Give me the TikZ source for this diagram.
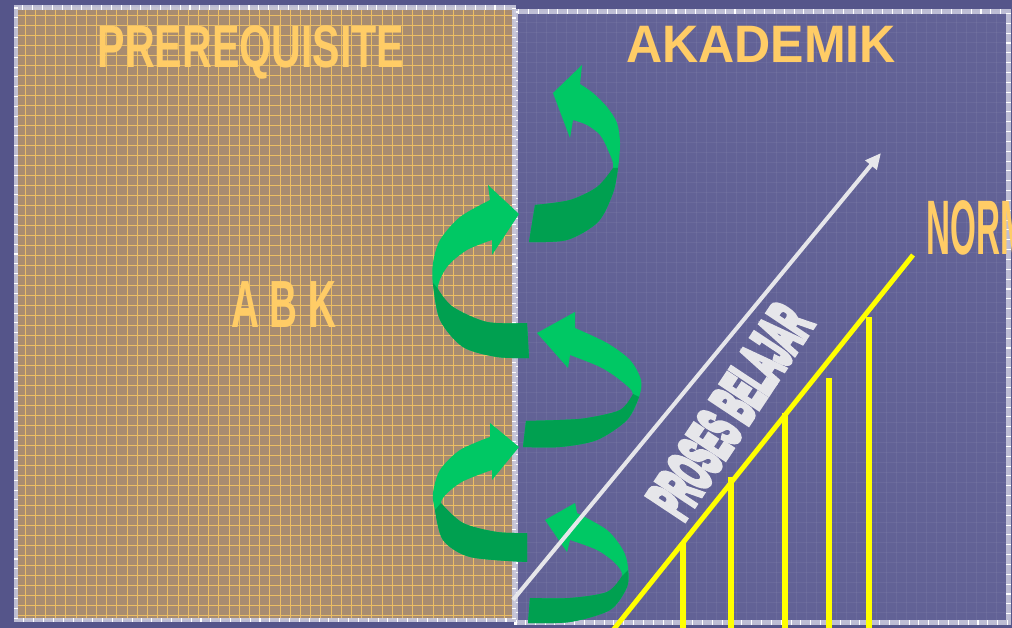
\documentclass[tikz,border=0pt]{standalone}
\usepackage{fontspec}
\setsansfont{Liberation Sans}
\newfontfamily\blobfont{Liberation Sans}[BoldFeatures={FakeBold=10}]
\usepackage{xcolor}
\definecolor{bgblue}{HTML}{55558A}
\definecolor{panelblue}{HTML}{626296}
\definecolor{tan}{HTML}{A88C70}
\definecolor{gridyellow}{HTML}{ECBE64}
\definecolor{headyellow}{HTML}{FFCC66}
\definecolor{arrowgreen}{HTML}{00C864}
\definecolor{arrowshade}{HTML}{00A050}
\definecolor{learnwhite}{HTML}{E6E6EA}
\definecolor{normyellow}{HTML}{FFFF00}
\definecolor{framegray}{HTML}{C8C8DC}
\usetikzlibrary{arrows.meta}

\tikzset{
  headtext/.style={inner sep=0pt, text=headyellow, font=\sffamily\bfseries},
  gridline/.style={gridyellow, line width=0.45pt},
  faintline/.style={white, opacity=0.05, line width=0.55pt},
  frameline/.style={framegray, opacity=0.9, line width=2.4pt},
  frametick/.style={white, line width=2.4pt, dash pattern=on 0.6pt off 5pt},
  normbar/.style={normyellow, line width=3.2pt}
}

\begin{document}
\begin{tikzpicture}[x=0.02cm, y=-0.02cm]
  % page and background
  \useasboundingbox (0,0) rectangle (1012,628);
  \fill[bgblue] (0,0) rectangle (1012,628);

  % right panel (akademik)
  \fill[panelblue] (516,11.5) rectangle (1008.5,622.5);
  \foreach \gx in {526,536,...,1006} \draw[faintline] (\gx,12) -- (\gx,622);
  \foreach \gy in {22,32,...,620} \draw[faintline] (516,\gy) -- (1008,\gy);
  \draw[frameline] (516,11.5) rectangle (1008.5,622.5);
  \draw[frametick] (516,11.5) rectangle (1008.5,622.5);

  % left panel (prerequisite)
  \fill[tan] (16,7.5) rectangle (514,620);
  \foreach \gx in {25,35.2,...,512} \draw[gridline] (\gx,8) -- (\gx,619);
  \foreach \gy in {15,25,...,615} \draw[gridline] (17,\gy) -- (513,\gy);
  \draw[frameline] (16,7.5) rectangle (514,620);
  \draw[frametick] (16,7.5) rectangle (514,620);

  % titles
  \node[headtext, font=\sffamily\bfseries\fontsize{34}{34}\selectfont, xscale=0.69, anchor=base] (prereq) at (251,68) {PREREQUISITE};
  \node[headtext, font=\sffamily\bfseries\fontsize{30}{30}\selectfont, xscale=0.95, anchor=base] (akademik) at (761,63) {AKADEMIK};
  \node[headtext, font=\sffamily\bfseries\fontsize{38}{38}\selectfont, xscale=0.58, anchor=base] (abk) at (284,328) {A B K};
  \node[headtext, font=\sffamily\bfseries\fontsize{44}{44}\selectfont, xscale=0.43, anchor=base west] (norm) at (926,255) {NORM};

  % yellow norm line with bars
  \coordinate (normlow) at (610,634);
  \coordinate (normhigh) at (913,255);
  \draw[normyellow, line width=2.8pt] (normlow) -- (normhigh);
  \draw[normbar] (683,543) -- (683,630);
  \draw[normbar] (731,477) -- (731,630);
  \draw[normbar] (785,413) -- (785,630);
  \draw[normbar] (829,378) -- (829,630);
  \draw[normbar] (869,317) -- (869,630);

  % arrow 1 (top, turning left)
  \fill[arrowgreen] plot[smooth] coordinates {(529,242) (567,240) (598,222) (613,193) (618,168) (620,143) (617,123) (607,107) (593,93) (580,84)}
    -- (582,65) -- (553,93) -- (570,138)
    -- plot[smooth] coordinates {(573,120) (587,125) (600,135) (608,150) (613,168) (597,187) (570,200) (535,205)} -- cycle;
  \fill[arrowshade] plot[smooth] coordinates {(529,242) (567,240) (598,222) (613,193) (618,168)}
    -- plot[smooth] coordinates {(613,168) (597,187) (570,200) (535,205)} -- cycle;

  % arrow 2 (turning right)
  \fill[arrowgreen] plot[smooth] coordinates {(529,358) (497,357) (463,347) (440,320) (433,285) (433,263) (440,240) (460,217) (490,200)}
    -- (488,185) -- (519,214) -- (492,255)
    -- plot[smooth] coordinates {(492,240) (467,250) (447,267) (438,289) (453,307) (487,322) (527,323)} -- cycle;
  \fill[arrowshade] plot[smooth] coordinates {(529,358) (497,357) (463,347) (440,320) (433,283)}
    -- plot[smooth] coordinates {(438,289) (453,307) (487,322) (527,323)} -- cycle;

  % arrow 3 (turning left)
  \fill[arrowgreen] plot[smooth] coordinates {(523,447) (560,447) (597,440) (627,420) (639,397) (641,380) (630,360) (607,343) (575,328)}
    -- (575,312) -- (537,333) -- (568,368)
    -- plot[smooth] coordinates {(570,355) (600,367) (620,380) (633,394) (620,410) (587,418) (560,420) (526,421)} -- cycle;
  \fill[arrowshade] plot[smooth] coordinates {(523,447) (560,447) (597,440) (627,420) (639,397)}
    -- plot[smooth] coordinates {(633,394) (620,410) (587,418) (560,420) (526,421)} -- cycle;

  % arrow 4 (turning right)
  \fill[arrowgreen] plot[smooth] coordinates {(527,562) (470,557) (443,540) (435,510) (433,493) (440,470) (460,450) (490,437)}
    -- (490,423) -- (519,447) -- (492,480)
    -- plot[smooth] coordinates {(492,470) (460,483) (441,503) (463,523) (497,532) (527,533)} -- cycle;
  \fill[arrowshade] plot[smooth] coordinates {(527,562) (470,557) (443,540) (435,510)}
    -- plot[smooth] coordinates {(441,503) (463,523) (497,532) (527,533)} -- cycle;

  % arrow 5 (bottom, turning left)
  \fill[arrowgreen] plot[smooth] coordinates {(528,623) (570,622) (610,610) (627,587) (628,567) (623,550) (607,530) (577,513)}
    -- (575,503) -- (545,520) -- (567,552)
    -- plot[smooth] coordinates {(570,540) (597,550) (615,563) (622,576) (607,592) (570,598) (530,598)} -- cycle;
  \fill[arrowshade] plot[smooth] coordinates {(528,623) (570,622) (610,610) (627,587) (628,570)}
    -- plot[smooth] coordinates {(622,576) (607,592) (570,598) (530,598)} -- cycle;

  % learning process arrow
  \coordinate (learnstart) at (513,600);
  \coordinate (learnend) at (881,153);
  \draw[learnwhite, line width=2.3pt, -{Triangle[length=9pt, width=8pt]}] (learnstart) -- (learnend);
  \node[inner sep=0pt, text=learnwhite, font=\blobfont\bfseries\fontsize{36}{36}\selectfont, rotate=56.5, xscale=0.41] (proses) at (730,411) {PROSES BELAJAR};
\end{tikzpicture}
\end{document}
